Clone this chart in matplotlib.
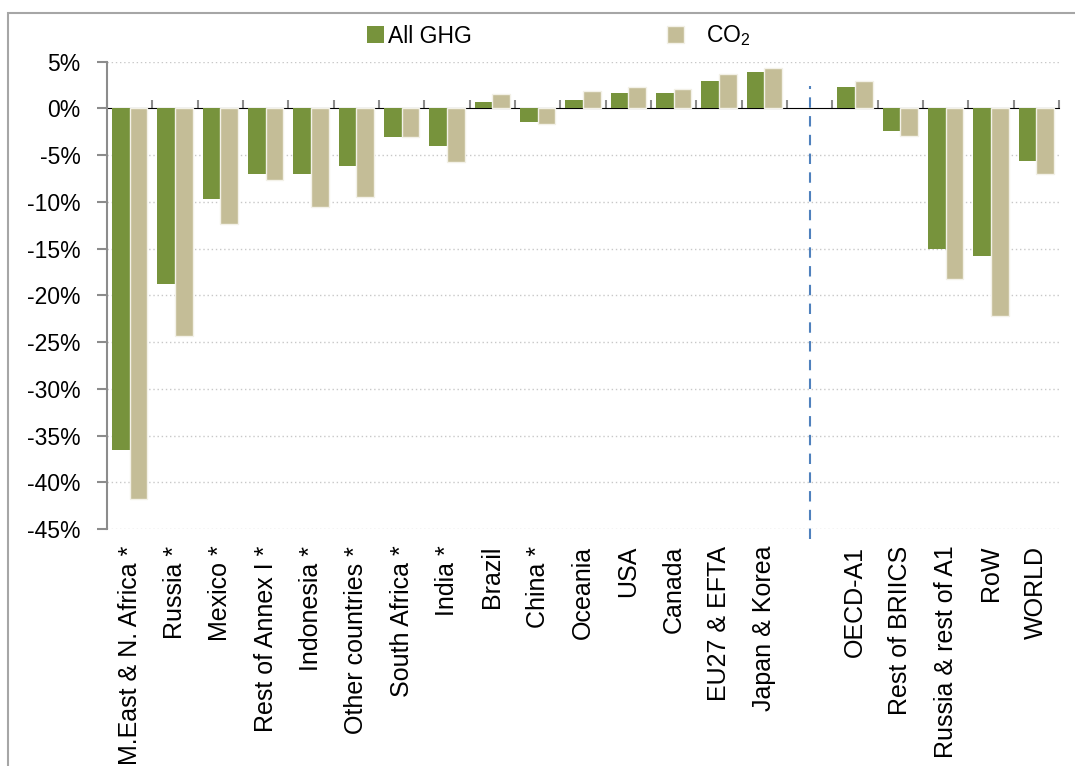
import matplotlib
matplotlib.use("Agg")
import numpy as np
from matplotlib import pyplot as plt
from matplotlib.patches import Rectangle

plt.rcParams['font.family'] = ['Liberation Sans', 'DejaVu Sans']
plt.rcParams['mathtext.fontset'] = 'custom'
plt.rcParams['mathtext.rm'] = 'Liberation Sans'

# Категории (пустая позиция разделяет страны и агрегаты)
categories = ["M.East & N. Africa *", "Russia *", "Mexico *", "Rest of Annex I *", "Indonesia *",
              "Other countries *", "South Africa *", "India *", "Brazil", "China *", "Oceania", "USA",
              "Canada", "EU27 & EFTA", "Japan & Korea", "",
              "OECD-A1", "Rest of BRIICS", "Russia & rest of A1", "RoW", "WORLD"]
all_ghg = [-36.5, -18.8, -9.7, -7.05, -7.05, -6.2, -3.1, -4.0, 0.65, -1.5, 0.85, 1.65, 1.65, 2.9, 3.9, np.nan,
           2.25, -2.4, -15.0, -15.8, -5.6]
co2 = [-41.8, -24.3, -12.4, -7.7, -10.5, -9.5, -3.1, -5.7, 1.5, -1.7, 1.85, 2.25, 2.05, 3.7, 4.3, np.nan,
       2.9, -3.0, -18.3, -22.2, -7.05]
y_ticks = [5, 0, -5, -10, -15, -20, -25, -30, -35, -40, -45]

green = '#77933C'
beige = '#C4BD97'
grey = '#8C8C8C'

fig = plt.figure(figsize=(10.75, 7.66), dpi=100)
ax = fig.add_axes([0.0995, 0.3094, 0.8855, 0.6101])

x = np.arange(len(categories))
w = 0.39
b1 = ax.bar(x - w / 2, all_ghg, w, color=green, label='All GHG', zorder=3)
b2 = ax.bar(x + w / 2, co2, w, color=beige, edgecolor='#F3F1E8', linewidth=1, label='   CO$\\mathregular{_2}$',
            zorder=3)

ax.set_xlim(-0.5, len(categories) - 0.5)
ax.set_ylim(-45, 5)
ax.set_yticks(y_ticks)
ax.set_yticklabels([f'{v}%' for v in y_ticks], fontsize=16.5)
ax.tick_params(axis='y', length=7, color=grey, width=1.5, pad=12)

for v in y_ticks:
    if v != 0:
        ax.axhline(v, color='#C8C8C8', lw=1, ls=(0, (1, 2)), zorder=1)

# Подписи категорий снизу, без засечек
ax.set_xticks(x)
ax.set_xticklabels(categories, rotation=90, fontsize=18, va='top', ha='center')
ax.tick_params(axis='x', length=0, pad=12)

for side in ['top', 'right', 'bottom']:
    ax.spines[side].set_visible(False)
ax.spines['left'].set_color(grey)
ax.spines['left'].set_linewidth(1.5)

# Ось X в нуле с засечками между категориями
sec = ax.secondary_xaxis(0.9)
sec.set_xticks(np.arange(len(categories) + 1) - 0.5)
sec.set_xticklabels([])
sec.tick_params(axis='x', length=6, color=grey, width=1.5, direction='out')
sec.spines['bottom'].set_color(grey)
sec.spines['bottom'].set_linewidth(1.5)

# Разделитель
ax.plot([15, 15], [-46.1, 2.4], color='#4F81BD', lw=1.5, ls=(0, (5, 4)), clip_on=False, zorder=2)

fig.legend(handles=[b1, b2], loc='center', bbox_to_anchor=(0.52, 0.953), ncol=2, frameon=False,
           fontsize=16.5, handlelength=0.75, handleheight=0.75, handletextpad=0.15, columnspacing=8.5)

fig.patches.append(Rectangle((8 / 1075, -0.1), 1.2, 1.1 - 13 / 766 + 0.0, transform=fig.transFigure,
                             fill=False, edgecolor='#A6A6A6', lw=1.5))

fig.savefig('out.png', dpi=100)
